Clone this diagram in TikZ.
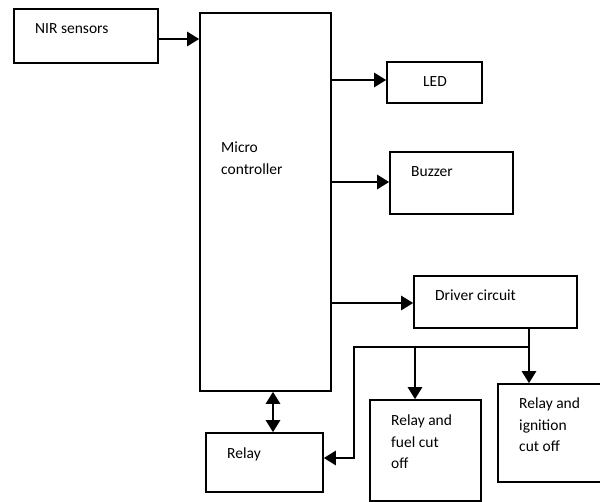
\documentclass[tikz,border=0pt]{standalone}
\usepackage{fontspec}
\setmainfont{Carlito}
\usetikzlibrary{arrows.meta}
\begin{document}
\begin{tikzpicture}[x=1pt,y=-1pt,
  box/.style={draw,line width=1.6pt,inner sep=0pt},
  conn/.style={line width=2.7pt,line join=miter},
  arr/.style={conn,-{Triangle[length=12pt,width=14pt]}},
  darr/.style={conn,{Triangle[length=12pt,width=14pt]}-{Triangle[length=12pt,width=14pt]}},
  lbl/.style={anchor=base west,inner sep=0pt,font=\fontsize{15.5}{21.5}\selectfont}]
\clip (0,0) rectangle (600,502);
\fill[white] (0,0) rectangle (600,502);
% boxes
\node[box,minimum width=144pt,minimum height=54pt] (nir) at (86,36) {};
\node[box,minimum width=131pt,minimum height=378pt] (mc) at (265.5,202) {};
\node[box,minimum width=95pt,minimum height=41pt] (led) at (434.5,82.5) {};
\node[box,minimum width=123pt,minimum height=62pt] (buzz) at (451.5,183) {};
\node[box,minimum width=163pt,minimum height=52pt] (drv) at (495.5,302) {};
\node[box,minimum width=111pt,minimum height=101pt] (fuel) at (425.5,450.5) {};
\node[box,minimum width=107pt,minimum height=98pt] (ign) at (551.5,433) {};
\node[box,minimum width=117pt,minimum height=59pt] (relay) at (264.5,462.5) {};
% texts
\node[lbl] (tnir) at (35,34) {NIR sensors};
\node[lbl] (tmc) at (221,153) {\vtop{\hbox{Micro}\hbox{controller}}};
\node[lbl] (tled) at (423,87) {LED};
\node[lbl] (tbuzz) at (411,177) {Buzzer};
\node[lbl] (tdrv) at (435,301) {Driver circuit};
\node[lbl] (trelay) at (227,459) {Relay};
\node[lbl] (tfuel) at (391,426) {\vtop{\hbox{Relay and}\hbox{fuel cut}\hbox{off}}};
\node[lbl] (tign) at (519,409) {\vtop{\hbox{Relay and}\hbox{ignition}\hbox{cut off}}};
% connectors
\coordinate (j) at (529,347);
\coordinate (k) at (354,347);
\coordinate (b) at (415,347);
\coordinate (r) at (354,458);
\draw[arr] (nir.east |- 0,39) -- (mc.west |- 0,39);
\draw[arr] (mc.east |- 0,80) -- (led.west |- 0,80);
\draw[arr] (mc.east |- 0,182) -- (buzz.west |- 0,182);
\draw[arr] (mc.east |- 0,303) -- (drv.west |- 0,303);
\draw[arr] (drv.south -| j) -- (ign.north -| j);
\draw[arr] (j) -- (k) -- (r) -- (relay.east |- r);
\draw[arr] (415,345.7) -- (fuel.north -| b);
\draw[darr] (mc.south -| 273,0) -- (relay.north -| 273,0);
\end{tikzpicture}
\end{document}
